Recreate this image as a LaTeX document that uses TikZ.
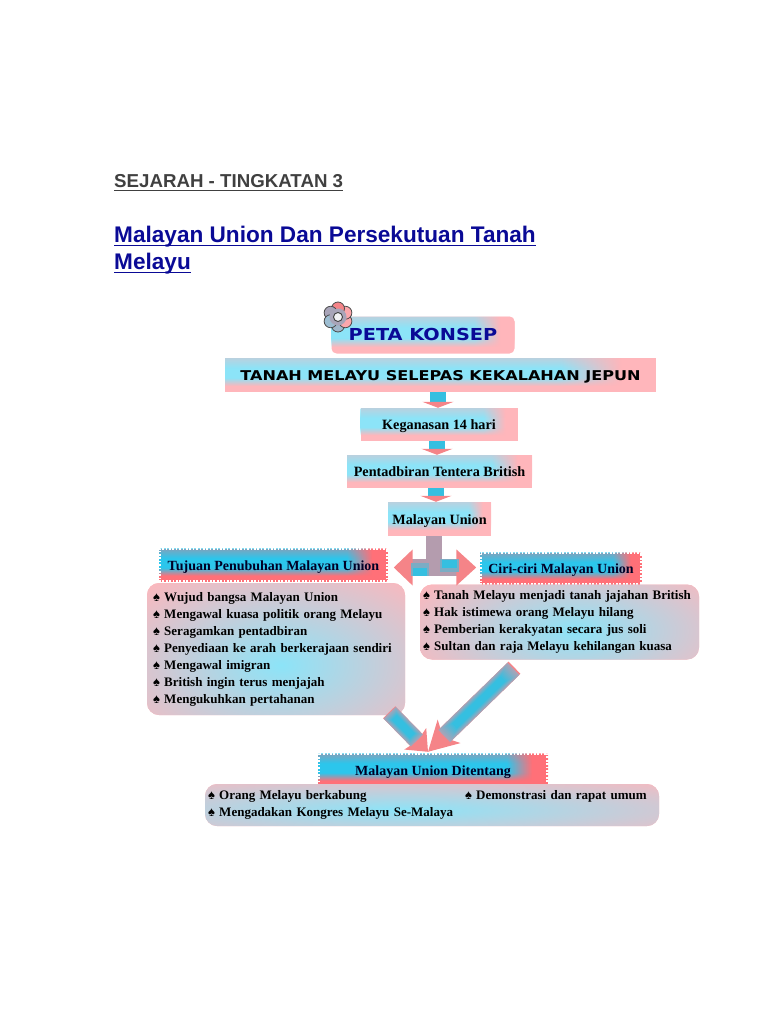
\documentclass[tikz,border=0pt]{standalone}
\usepackage{graphicx}
\usepackage{fontspec}
\setmainfont{Liberation Serif}
\newfontfamily\headfont{Liberation Sans}
\newfontfamily\widefont{DejaVu Sans}
\usetikzlibrary{arrows.meta,fadings}
\definecolor{softsky}{HTML}{8CE4F8}
\definecolor{softpink}{HTML}{FFB6BB}
\definecolor{hardsky}{HTML}{2CC6EC}
\definecolor{hardpink}{HTML}{FF7078}
\definecolor{arrowsky}{HTML}{35BFE0}
\definecolor{arrowgrey}{HTML}{A8A4B8}
\definecolor{stemgrey}{HTML}{B49CAE}
\definecolor{arrowpink}{HTML}{F58488}
\definecolor{titleblue}{HTML}{0A0A96}
% sisi kanan jadi merah jambu, bahagian bawah pudar
\pgfdeclarehorizontalshading{softshade}{100bp}{color(0bp)=(softsky); color(25bp)=(softsky); color(64bp)=(softsky); color(71bp)=(softpink); color(100bp)=(softpink)}
\pgfdeclarehorizontalshading{hardshade}{100bp}{color(0bp)=(hardsky); color(25bp)=(hardsky); color(66bp)=(hardsky); color(71.5bp)=(hardpink); color(100bp)=(hardpink)}
\pgfdeclareverticalshading{downshade}{100bp}{color(0bp)=(pgftransparent!100); color(34bp)=(pgftransparent!100); color(46bp)=(pgftransparent!0); color(60bp)=(pgftransparent!0); color(75bp)=(pgftransparent!40); color(100bp)=(pgftransparent!40)}
\pgfdeclarefading{fadedown}{\pgfuseshading{downshade}}
\tikzset{
  softbox/.style={fill=softpink, inner sep=0pt, text height=11pt, text depth=1pt, font=\bfseries\fontsize{14.2}{17}\selectfont,
    path picture={\shade[shading=softshade, path fading=fadedown]
      (path picture bounding box.south west) rectangle (path picture bounding box.north east);}},
  dotbox/.style={fill=hardpink, inner sep=0pt, text=black!85!blue, text height=11pt, text depth=1pt, font=\bfseries\fontsize{14}{17}\selectfont,
    draw=white, line width=3.4pt, dash pattern=on 1.7pt off 1.7pt,
    path picture={\shade[shading=hardshade, path fading=fadedown]
      (path picture bounding box.south west) rectangle (path picture bounding box.north east);}},
  listbox/.style n args={4}{fill=softpink, inner sep=0pt, rounded corners=12pt, align=left, font=\bfseries\fontsize{13}{17}\selectfont,
    path picture={\shade[inner color=softsky, outer color=softpink]
      ([shift={(#1,#2)}]path picture bounding box.center) ellipse (#3 and #4);}},
  headline/.style={anchor=base west, inner sep=0pt, text depth=3.5pt, text=titleblue, font=\headfont\bfseries\fontsize{22.6}{25}\selectfont},
  smallarrow/.style={line width=16pt, draw=arrowsky, -{Triangle[length=6pt,width=31pt,color=arrowpink]}},
}
% anak panah besar, warna berlapis
\newcommand\blockarrow[7]{
  \draw[line width=#3pt, draw=arrowpink, -{Stealth[length=#4pt,width=#5pt,inset=#7pt,color=arrowpink]}] (#1) -- (#2);
  \foreach \k [evaluate=\k as \w using #3*(1-\k/15), evaluate=\k as \p using 100*\k/9, evaluate=\k as \s using #6*(\k+1)/2] in {0,...,9}
    \draw[line width=\w pt, draw=arrowsky!\p!arrowgrey, shorten <=\s pt, shorten >=#4pt-#7pt+\s pt] (#1) -- (#2);
}
\begin{document}
\begin{tikzpicture}[x=1pt, y=-1pt]
  \useasboundingbox (0,0) rectangle (768,1024);
  % tajuk halaman
  \node[headline, text depth=2.5pt, text=black!75, font=\headfont\bfseries\fontsize{18.7}{20}\selectfont] (sejarah) at (114,188) {SEJARAH - TINGKATAN 3};
  \node[headline] (judul) at (114,242) {Malayan Union Dan Persekutuan Tanah};
  \node[headline] (judulb) at (114,269) {Melayu};
  \draw[line width=1.5pt, black!75] (sejarah.south west) -- (sejarah.south east);
  \draw[line width=1.5pt, titleblue] (judul.south west) -- (judul.south east);
  \draw[line width=1.5pt, titleblue] (judulb.south west) -- (judulb.south east);
  % peta konsep
  \node[softbox, rounded corners=5pt, minimum width=183pt, minimum height=37pt, text height=12pt, text=titleblue, font=\widefont\bfseries\fontsize{16.5}{17}\selectfont] (peta) at (423,335) {\scalebox{1.17}[1]{PETA KONSEP}\hspace{8pt}};
  \node[softbox, minimum width=431pt, minimum height=34pt, font=\widefont\bfseries\fontsize{13.5}{15}\selectfont] (tanah) at (440.5,375) {\scalebox{1.19}[1]{TANAH MELAYU SELEPAS KEKALAHAN JEPUN}};
  \node[softbox, minimum width=157pt, minimum height=33pt] (keganasan) at (439,424.5) {Keganasan 14 hari};
  \node[softbox, minimum width=185pt, minimum height=33pt] (pentadbiran) at (439.5,471.5) {Pentadbiran Tentera British};
  \node[softbox, minimum width=103pt, minimum height=34pt] (union) at (439.5,519) {Malayan Union};
  % kotak kiri dan kanan
  \node[dotbox, minimum width=229pt, minimum height=33pt] (tujuan) at (273.5,565) {Tujuan Penubuhan Malayan Union};
  \node[dotbox, minimum width=162pt, minimum height=32pt] (ciri) at (561,568.5) {Ciri-ciri Malayan Union};
  \node[listbox={5pt}{-16pt}{200pt}{115pt}, minimum width=258pt, minimum height=132pt, text width=246pt] (tujuanlist) at (276,649) {%
    ♠ Wujud bangsa Malayan Union\\
    ♠ Mengawal kuasa politik orang Melayu\\
    ♠ Seragamkan pentadbiran\\
    ♠ Penyediaan ke arah berkerajaan sendiri\\
    ♠ Mengawal imigran\\
    ♠ British ingin terus menjajah\\
    ♠ Mengukuhkan pertahanan};
  \node[listbox={15pt}{-9pt}{190pt}{80pt}, minimum width=279pt, minimum height=75pt, text width=273pt] (cirilist) at (559.5,622) {%
    ♠ Tanah Melayu menjadi tanah jajahan British\\
    ♠ Hak istimewa orang Melayu hilang\\
    ♠ Pemberian kerakyatan secara jus soli\\
    ♠ Sultan dan raja Melayu kehilangan kuasa};
  % bawah
  \node[dotbox, minimum width=230pt, minimum height=33pt] (ditentang) at (433,770) {Malayan Union Ditentang};
  \node[listbox={-32pt}{-5pt}{440pt}{40pt}, minimum width=454pt, minimum height=42pt, text width=448pt] (ditentanglist) at (432,805) {%
    \makebox[257pt][l]{♠ Orang Melayu berkabung}♠ Demonstrasi dan rapat umum\\
    ♠ Mengadakan Kongres Melayu Se-Malaya};
  % bunga
  \foreach \a/\c in {90/arrowgrey!70!softsky, 30/softpink!70!arrowpink, -30/softpink!70!arrowpink, -90/arrowpink, -150/arrowgrey, 150/arrowgrey!60!softsky}
    \draw[fill=\c, line width=0.8pt, draw=black!70] (338,317) ++(\a:8.5) circle (6.5);
  \fill[arrowgrey] (338,317) circle (8.5);
  \draw[fill=white!85!arrowgrey, line width=0.9pt, draw=black!75] (338,317) circle (4.5);
  % anak panah kecil
  \draw[smallarrow] ([xshift=-2.5pt]tanah.south) -- ([xshift=-1pt]keganasan.north);
  \draw[smallarrow] ([xshift=-2pt]keganasan.south) -- ([xshift=-2.5pt]pentadbiran.north);
  \draw[smallarrow] ([xshift=-3.5pt]pentadbiran.south) -- ([xshift=-3.5pt]union.north);
  % cabang
  \coordinate (cabang) at (434,567.5);
  \coordinate (atas) at ([xshift=-5.5pt]union.south);
  \draw[line width=16pt, draw=stemgrey] (atas) -- (cabang);
  \draw[line width=17pt, draw=stemgrey, -{Triangle[length=19pt,width=35pt,color=arrowpink]}] (cabang) -- ([xshift=4pt]cabang -| tujuan.east);
  \draw[line width=17pt, draw=stemgrey, -{Triangle[length=20pt,width=35pt,color=arrowpink]}] (cabang) -- ([xshift=-2pt]cabang -| ciri.west);
  \draw[line width=13pt, draw=arrowsky!45!stemgrey] ([shift={(-5,2)}]cabang) -- ([shift={(-23,2)}]cabang);
  \draw[line width=13pt, draw=arrowsky!45!stemgrey] ([shift={(6,-2)}]cabang) -- ([shift={(25,-2)}]cabang);
  \draw[line width=8pt, draw=arrowsky] ([shift={(-7,4)}]cabang) -- ([shift={(-21,4)}]cabang);
  \draw[line width=8pt, draw=arrowsky] ([shift={(8,-4)}]cabang) -- ([shift={(23,-4)}]cabang);
  % dua anak panah ke bawah
  \coordinate (temu) at ([xshift=-5pt]ditentang.north);
  \coordinate (mulakiri) at ([shift={(-16,-3)}]tujuanlist.south east);
  \coordinate (mulakanan) at ([shift={(-45,8)}]cirilist.south);
  \blockarrow{mulakiri}{temu}{17}{18}{30}{1.5}{3}
  \blockarrow{mulakanan}{temu}{17}{29}{32}{3.2}{8}
\end{tikzpicture}
\end{document}
